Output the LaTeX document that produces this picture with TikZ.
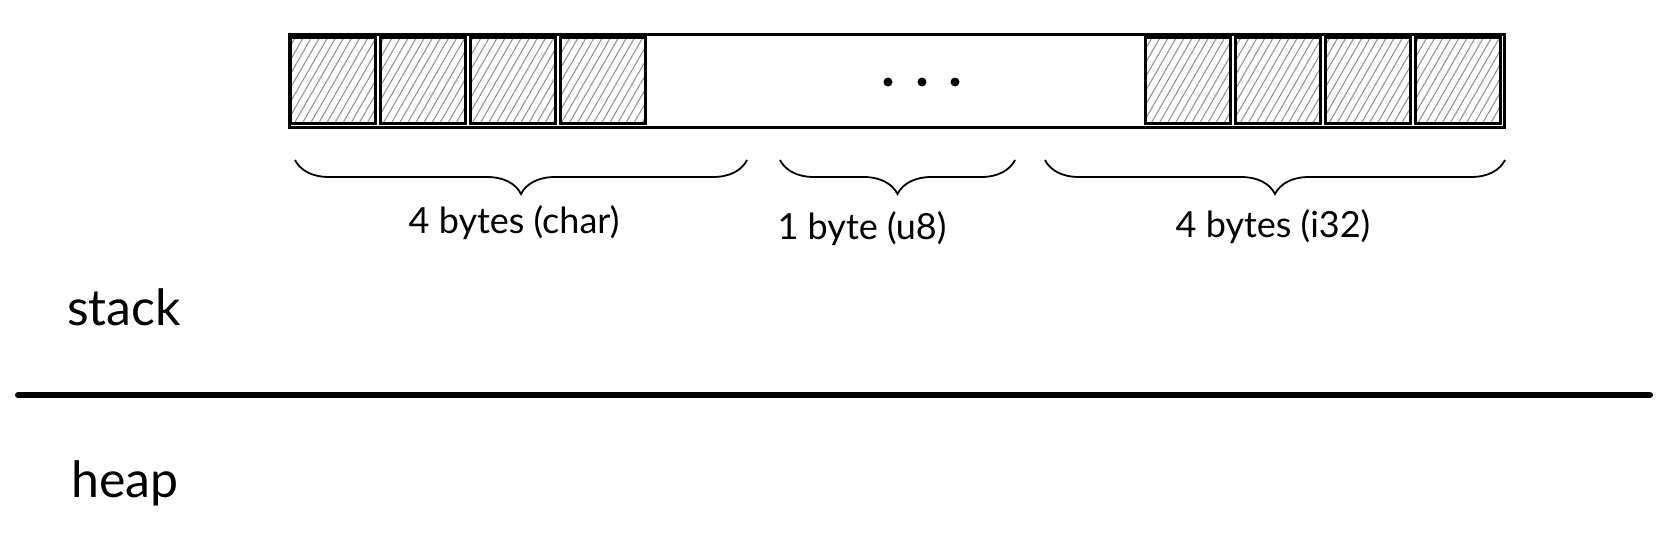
\documentclass[tikz,border=0pt]{standalone}
\usepackage{fontspec}
\setmainfont{Lato}
\usetikzlibrary{positioning,patterns.meta,decorations.pathreplacing}
\tikzset{
    memframe/.style={draw,line width=3pt,minimum width=1215pt,minimum height=92pt,inner sep=0pt},
    bytebox/.style={draw,line width=3pt,minimum width=85pt,minimum height=85pt,inner sep=0pt,
        pattern={Lines[angle=60,distance=7pt,line width=1.1pt]},pattern color=black!42},
    bytedot/.style={circle,fill,minimum size=9pt,inner sep=0pt},
    sizebrace/.style={decorate,decoration={brace,mirror,amplitude=34pt},line width=1.8pt},
    sizelabel/.style={font=\fontsize{36}{42}\selectfont,inner sep=0pt},
    regionlabel/.style={font=\fontsize{50}{58}\selectfont,inner sep=0pt},
    divider/.style={line width=6pt,line cap=round}
}
\begin{document}
\begin{tikzpicture}[x=1pt,y=-1pt]
    \useasboundingbox (0,0) rectangle (1668,535);
    % memory bar
    \node[memframe] (frame) at (896.5,81) {};
    \foreach \i/\cx in {1/333,2/423,3/513,4/603}
        \node[bytebox] (l\i) at (\cx,80.5) {};
    \foreach \i/\cx in {1/1188,2/1278,3/1368,4/1458}
        \node[bytebox] (r\i) at (\cx,80.5) {};
    \foreach \i/\cx in {1/888,2/922,3/955}
        \node[bytedot] (d\i) at (\cx,82) {};
    % braces
    \coordinate (charstart) at (295,160);
    \coordinate (charend) at (747,160);
    \coordinate (u8start) at (780,160);
    \coordinate (u8end) at (1015,160);
    \coordinate (i32start) at (1045,160);
    \coordinate (i32end) at (1505,160);
    \draw[sizebrace] (charstart) -- (charend);
    \draw[sizebrace] (u8start) -- (u8end);
    \draw[sizebrace] (i32start) -- (i32end);
    \node[sizelabel] (charlabel) at (514,223) {4 bytes (char)};
    \node[sizelabel] (u8label) at (862,229) {1 byte (u8)};
    \node[sizelabel] (i32label) at (1273,227) {4 bytes (i32)};
    % stack / heap
    \node[regionlabel] (stack) at (124,307) {stack};
    \coordinate (divleft) at (18,395);
    \coordinate (divright) at (1650,395);
    \draw[divider] (divleft) -- (divright);
    \node[regionlabel] (heap) at (125,483) {heap};
\end{tikzpicture}
\end{document}
